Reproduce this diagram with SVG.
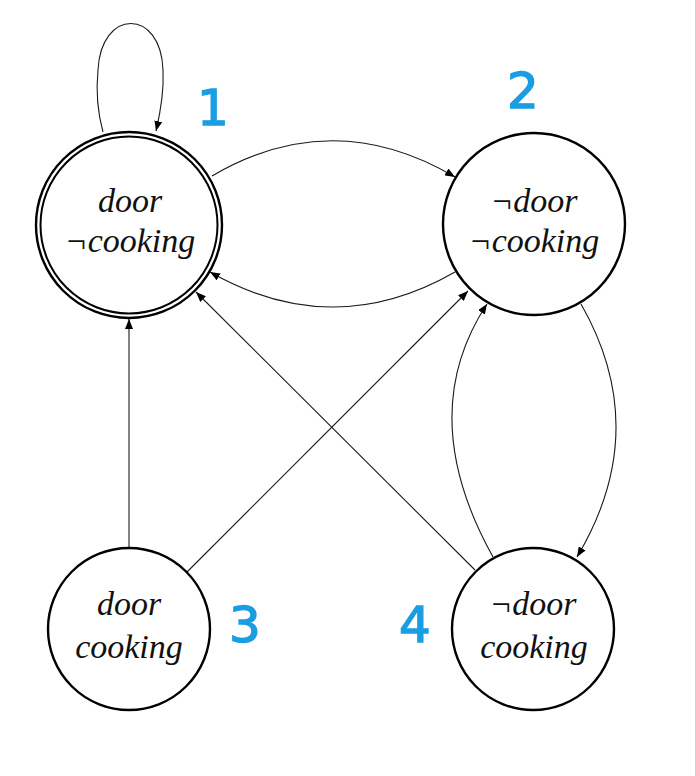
<svg xmlns="http://www.w3.org/2000/svg" width="696" height="776" viewBox="0 0 696 776">
<style>
.node{fill:#fff;stroke:#000;stroke-width:2.4}
.lbl{font-family:"Liberation Serif","DejaVu Serif",serif;font-style:italic;font-size:34px;fill:#111;text-anchor:middle}
.num{font-family:"DejaVu Sans","Liberation Sans",sans-serif;font-weight:normal;font-size:50px;fill:#1a9ee3;stroke:#1a9ee3;stroke-width:1.4;text-anchor:middle}
.edge{fill:none;stroke:#1a1a1a;stroke-width:1.1;marker-end:url(#arr)}
</style>
<defs>
<marker id="arr" viewBox="0 0 10 8" refX="10" refY="4" markerWidth="10" markerHeight="8" markerUnits="userSpaceOnUse" orient="auto">
<path d="M0,0 L10,4 L0,8 z" fill="#000"/>
</marker>
</defs>
<rect width="696" height="776" fill="#fff"/>
<line x1="695.5" y1="0" x2="695.5" y2="776" stroke="#cfcfcf" stroke-width="1"/>
<g id="connectors">
<path class="edge" d="M103,132 C97,110 96,90 98,70 C101,8 161,8 163,70 C164,90 161,110 156,131"/>
<path class="edge" d="M212,176 Q333,105 455,177"/>
<path class="edge" d="M455,272 Q333,342 210,272"/>
<line class="edge" x1="129" y1="547" x2="129" y2="319"/>
<line class="edge" x1="187" y1="572" x2="468" y2="291"/>
<line class="edge" x1="475" y1="570" x2="196" y2="292"/>
<path class="edge" d="M493,557 Q414,415 487,304"/>
<path class="edge" d="M581,304 Q653,430 577,557"/>
</g>
<g id="node1">
<circle class="node" cx="129" cy="225" r="93"/>
<circle cx="129" cy="225" r="88.5" fill="none" stroke="#000" stroke-width="2"/>
<text class="lbl" x="130" y="212">door</text>
<text class="lbl" x="130" y="252">¬cooking</text>
<text class="num" x="213" y="125">1</text>
</g>
<g id="node2">
<circle class="node" cx="534" cy="224" r="91"/>
<text class="lbl" x="534" y="212">¬door</text>
<text class="lbl" x="534" y="252">¬cooking</text>
<text class="num" x="523" y="108">2</text>
</g>
<g id="node3">
<circle class="node" cx="129" cy="629" r="81"/>
<text class="lbl" x="129" y="615">door</text>
<text class="lbl" x="129" y="658">cooking</text>
<text class="num" x="245" y="642">3</text>
</g>
<g id="node4">
<circle class="node" cx="533" cy="629" r="81"/>
<text class="lbl" x="533" y="615">¬door</text>
<text class="lbl" x="534" y="658">cooking</text>
<text class="num" x="415" y="642">4</text>
</g>
</svg>
